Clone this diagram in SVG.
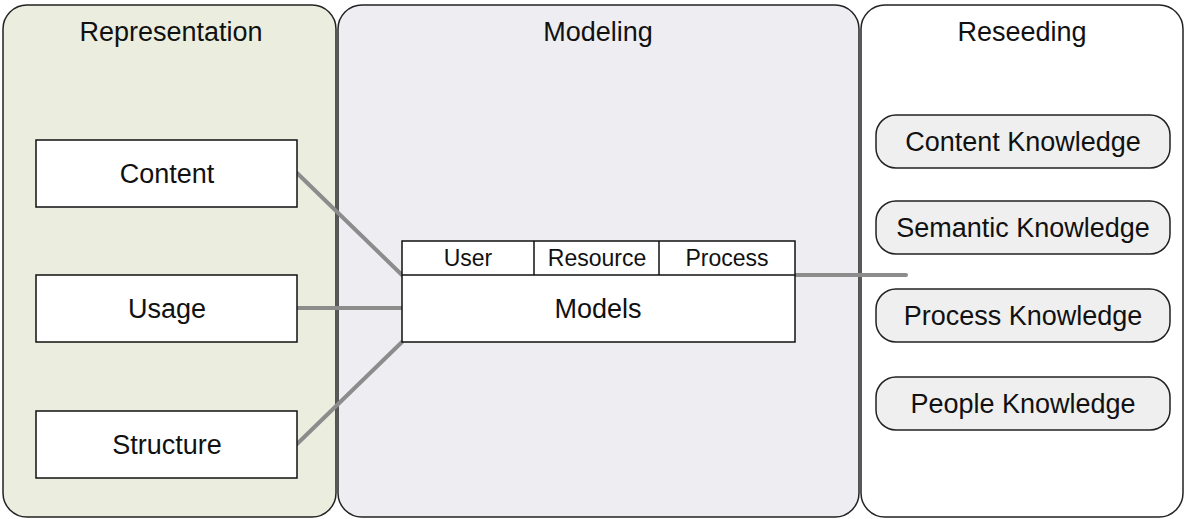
<svg xmlns="http://www.w3.org/2000/svg" width="1186" height="519" viewBox="0 0 1186 519">
<style>
.panel{stroke:#222;stroke-width:1.5}
.box{fill:#fff;stroke:#111;stroke-width:1.5}
.pill{fill:#efefef;stroke:#222;stroke-width:1.5}
text{font-family:"Liberation Sans",Arial,sans-serif;fill:#111;text-anchor:middle}
.t{font-size:27px}
.n{font-size:27px}
.h{font-size:23px}
.conn{stroke:#8c8c8c;stroke-width:4;stroke-linecap:round;fill:none}
</style>
<rect width="1186" height="519" fill="#fff"/>
<g id="representation">
<rect class="panel" x="3" y="5" width="333" height="512" rx="24" fill="#ebeedf"/>
<text class="t" x="171" y="41">Representation</text>
</g>
<g id="modeling">
<rect class="panel" x="338" y="5" width="521" height="512" rx="24" fill="#eeedf2"/>
<text class="t" x="598" y="41">Modeling</text>
</g>
<g id="reseeding">
<rect class="panel" x="861" y="5" width="322" height="512" rx="24" fill="#fff"/>
<text class="t" x="1022" y="41">Reseeding</text>
</g>
<g id="connectors">
<line class="conn" x1="297" y1="173" x2="402" y2="275"/>
<line class="conn" x1="297" y1="308" x2="402" y2="308"/>
<line class="conn" x1="297" y1="444" x2="402" y2="342"/>
<line class="conn" x1="795" y1="275" x2="906" y2="275"/>
</g>
<g id="content">
<rect class="box" x="36" y="140" width="261" height="67"/>
<text class="n" x="167" y="183">Content</text>
</g>
<g id="usage">
<rect class="box" x="36" y="275" width="261" height="67"/>
<text class="n" x="167" y="318">Usage</text>
</g>
<g id="structure">
<rect class="box" x="36" y="411" width="261" height="67"/>
<text class="n" x="167" y="454">Structure</text>
</g>
<g id="models">
<rect class="box" x="402" y="241" width="393" height="101"/>
<line stroke="#111" stroke-width="1.5" x1="402" y1="275" x2="795" y2="275"/>
<line stroke="#111" stroke-width="1.5" x1="534" y1="241" x2="534" y2="275"/>
<line stroke="#111" stroke-width="1.5" x1="659" y1="241" x2="659" y2="275"/>
<text class="h" x="468" y="266">User</text>
<text class="h" x="597" y="266">Resource</text>
<text class="h" x="727" y="266">Process</text>
<text class="n" x="598" y="318">Models</text>
</g>
<g id="content-knowledge">
<rect class="pill" x="876" y="115" width="294" height="53" rx="20"/>
<text class="n" x="1023" y="151">Content Knowledge</text>
</g>
<g id="semantic-knowledge">
<rect class="pill" x="876" y="201" width="294" height="53" rx="20"/>
<text class="n" x="1023" y="237">Semantic Knowledge</text>
</g>
<g id="process-knowledge">
<rect class="pill" x="876" y="289" width="294" height="53" rx="20"/>
<text class="n" x="1023" y="325">Process Knowledge</text>
</g>
<g id="people-knowledge">
<rect class="pill" x="876" y="377" width="294" height="53" rx="20"/>
<text class="n" x="1023" y="413">People Knowledge</text>
</g>
</svg>
